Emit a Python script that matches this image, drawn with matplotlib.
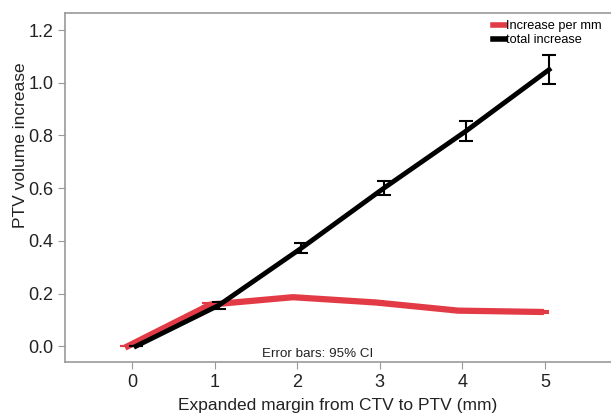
import matplotlib.pyplot as plt
from matplotlib.lines import Line2D
import numpy as np

plt.rcParams['font.family'] = ['Liberation Sans', 'DejaVu Sans']

margin = [0, 1, 2, 3, 4, 5]
per_mm = [0.0, 0.158, 0.186, 0.166, 0.135, 0.130]
per_mm_err = [0.0, 0.006, 0.006, 0.005, 0.004, 0.004]
total = [0.0, 0.155, 0.372, 0.600, 0.818, 1.050]
total_err = [0.0, 0.014, 0.018, 0.027, 0.038, 0.055]
series_labels = ['Increase per mm', 'total increase']

x = np.array(margin, dtype=float)
red = '#e33b45'
dark = '#222222'

fig = plt.figure(figsize=(6.11, 4.16), dpi=100)
ax = fig.add_axes([65 / 611, 1 - 362 / 416, 1 - 65 / 611, (362 - 13) / 416])

ax.errorbar(x - 0.05, per_mm, yerr=per_mm_err, color=red, lw=4.5,
            elinewidth=1.5, capsize=6, capthick=1.5, zorder=2)
ax.errorbar(x + 0.05, total, yerr=total_err, color='black', lw=3.5,
            elinewidth=1.5, capsize=5, capthick=1.5, zorder=3)

ax.set_xlim(-0.81, 5.8)
ax.set_ylim(-0.06, 1.265)
ax.set_xticks(margin)
yt = np.arange(0, 1.21, 0.2)
ax.set_yticks(yt)
ax.set_yticklabels([f'{v:.1f}' for v in yt])

for s in ['left', 'bottom', 'top']:
    ax.spines[s].set_color('#999999')
    ax.spines[s].set_linewidth(1.2)
ax.spines['right'].set_visible(False)
ax.tick_params(colors='#999999', labelcolor=dark, labelsize=13, length=5, direction='out')

ax.set_xlabel('Expanded margin from CTV to PTV (mm)', fontsize=12.5, color=dark, labelpad=5)
ax.set_ylabel('PTV volume increase', fontsize=12.5, color=dark)
ax.yaxis.set_label_coords(-0.068, 0.62)

ax.text(1.57, -0.005, 'Error bars: 95% CI', fontsize=9.6, color=dark, ha='left', va='top')

handles = [Line2D([], [], color=red, lw=4), Line2D([], [], color='black', lw=4)]
ax.legend(handles, series_labels, loc='upper right', bbox_to_anchor=(1.0, 1.005),
          frameon=False, fontsize=9.2, handlelength=0.9, handletextpad=0.15,
          labelspacing=0.15, borderaxespad=0.3)

fig.savefig('out.png', dpi=100)
